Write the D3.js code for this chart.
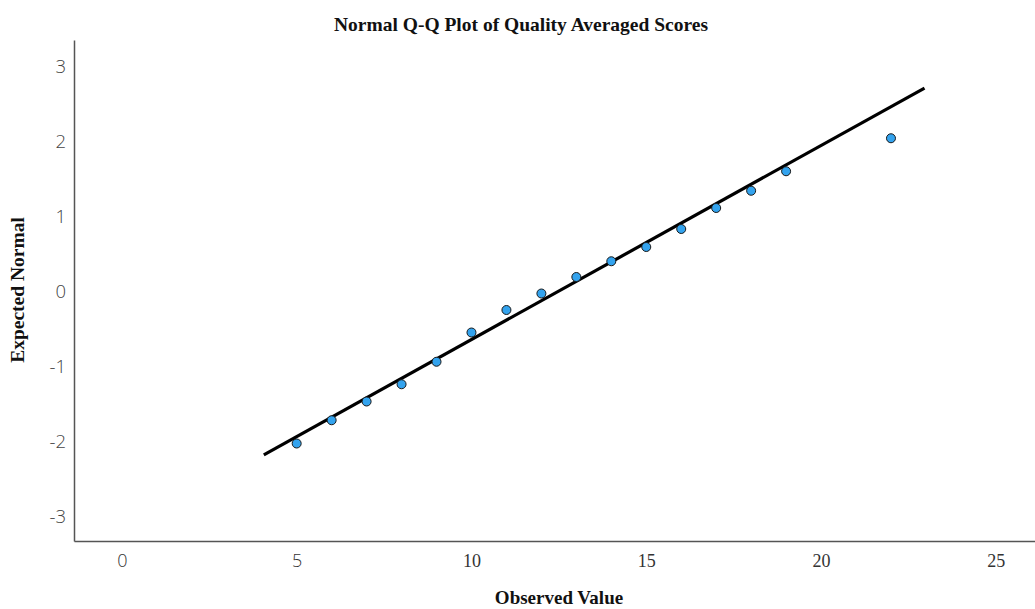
<!DOCTYPE html>
<html>
<head>
<meta charset="utf-8">
<script src="https://cdn.jsdelivr.net/npm/d3@7"></script>
<style>
  html, body { margin: 0; padding: 0; background: #fff; }
  svg { display: block; }
</style>
</head>
<body>
<svg id="chart" width="1035" height="609"></svg>
<script>
// ---- Data ----
const observed = [5, 6, 7, 8, 9, 10, 11, 12, 13, 14, 15, 16, 17, 18, 19, 22];
const expected = [-2.02, -1.71, -1.46, -1.23, -0.93, -0.54, -0.24, -0.02, 0.20, 0.41, 0.60, 0.84, 1.12, 1.35, 1.61, 2.05];
const xTicks = [0, 5, 10, 15, 20, 25];
const yTicks = [-3, -2, -1, 0, 1, 2, 3];
const xDomain = [-1.37, 26.12];
const yDomain = [-3.32, 3.36];
const refLineX = [4.06, 22.96];
const refMean = 12.45;
const refSD = 3.865;
const titleText = "Normal Q-Q Plot of Quality Averaged Scores";
const xLabel = "Observed Value";
const yLabel = "Expected Normal";

// ---- Layout ----
const svg = d3.select("#chart");
const mLeft = 74, mRight = 1035, mTop = 40, mBottom = 541;
const serif = "'Liberation Serif', 'Times New Roman', serif";
const sans = "'Open Sans', 'DejaVu Sans', sans-serif";

const x = d3.scaleLinear().domain(xDomain).range([mLeft, mRight]);
const y = d3.scaleLinear().domain(yDomain).range([mBottom, mTop]);

// Title
svg.append("text")
  .attr("x", 521).attr("y", 31)
  .attr("text-anchor", "middle")
  .attr("font-family", serif)
  .attr("font-weight", "bold")
  .attr("font-size", 19.5)
  .attr("fill", "#111")
  .text(titleText);

// X axis
const xAxis = d3.axisBottom(x).tickValues(xTicks).tickSize(0).tickFormat(d3.format("d"));
const gx = svg.append("g").attr("transform", `translate(0,${mBottom})`).call(xAxis);
gx.select(".domain").attr("stroke", "#555").attr("stroke-width", 1.5);
gx.selectAll("text")
  .attr("y", 26).attr("dy", 0)
  .attr("font-family", d => d < 10 ? sans : serif)
  .attr("font-weight", d => d < 10 ? 300 : 400)
  .attr("font-size", 18)
  .attr("fill", "#333");

// Y axis
const yAxis = d3.axisLeft(y).tickValues(yTicks).tickSize(0).tickPadding(8).tickFormat(d => d < 0 ? "-" + Math.abs(d) : String(d));
const gy = svg.append("g").attr("transform", `translate(${mLeft},0)`).call(yAxis);
gy.select(".domain").attr("stroke", "#555").attr("stroke-width", 1.5);
gy.selectAll("text")
  .attr("font-family", sans)
  .attr("font-weight", 300)
  .attr("font-size", 18.5)
  .attr("fill", "#444");

// Axis labels
svg.append("text")
  .attr("x", 559).attr("y", 604)
  .attr("text-anchor", "middle")
  .attr("font-family", serif)
  .attr("font-weight", "bold")
  .attr("font-size", 19)
  .attr("fill", "#111")
  .text(xLabel);

svg.append("text")
  .attr("transform", `translate(24,290) rotate(-90)`)
  .attr("text-anchor", "middle")
  .attr("font-family", serif)
  .attr("font-weight", "bold")
  .attr("font-size", 19.5)
  .attr("fill", "#111")
  .text(yLabel);

// Reference line
const lineData = refLineX.map(v => ({ x: v, y: (v - refMean) / refSD }));
svg.append("path")
  .datum(lineData)
  .attr("d", d3.line().x(d => x(d.x)).y(d => y(d.y)))
  .attr("stroke", "#000")
  .attr("stroke-width", 3.2)
  .attr("fill", "none");

// Points
svg.append("g").selectAll("circle")
  .data(observed.map((v, i) => ({ x: v, y: expected[i] })))
  .join("circle")
  .attr("cx", d => x(d.x))
  .attr("cy", d => y(d.y))
  .attr("r", 4.5)
  .attr("fill", "#33a3ee")
  .attr("stroke", "#1a1a1a")
  .attr("stroke-width", 1);
</script>
</body>
</html>
